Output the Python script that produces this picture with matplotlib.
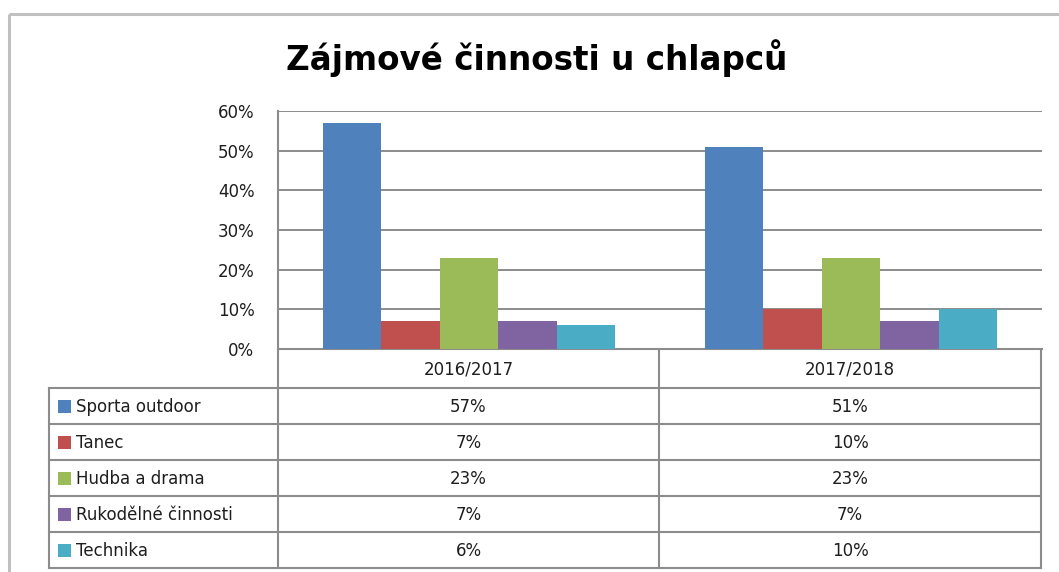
import matplotlib
matplotlib.use("Agg")
import matplotlib.pyplot as plt
import numpy as np

title = "Zájmové činnosti u chlapců"
categories = ["2016/2017", "2017/2018"]
series_names = ["Sporta outdoor", "Tanec", "Hudba a drama", "Rukodělné činnosti", "Technika"]
sporta = [57, 51]
tanec = [7, 10]
hudba = [23, 23]
rukodelne = [7, 7]
technika = [6, 10]
series_values = [sporta, tanec, hudba, rukodelne, technika]
colors = ["#4F81BD", "#C0504D", "#9BBB59", "#8064A2", "#4BACC6"]
yticks = [0, 10, 20, 30, 40, 50, 60]

W, H = 1059, 572
fig = plt.figure(figsize=(W / 100, H / 100), dpi=100)
fig.patch.set_facecolor("white")

FONT = ["DejaVu Sans"]
FS = 12
TXT = "#1e1e1e"
GRID = "#8c8c8c"

# plot area in pixels
L, R, T, B = 278, 1042, 111, 349
ax = fig.add_axes([L / W, 1 - B / H, (R - L) / W, (B - T) / H])
n = len(series_values)
group = 0.764
bw = group / n
x = np.arange(len(categories))
for i, (vals, c) in enumerate(zip(series_values, colors)):
    ax.bar(x + (i - (n - 1) / 2) * bw, vals, width=bw, color=c, zorder=3, linewidth=0)
ax.set_xlim(-0.5, len(categories) - 0.5)
ax.set_ylim(0, 60)
ax.set_yticks(yticks)
ax.set_yticklabels([f"{v}%" for v in yticks], fontfamily=FONT, fontsize=FS, color=TXT)
ax.set_xticks([])
ax.tick_params(axis="y", length=0, pad=17)
ax.grid(axis="y", color=GRID, linewidth=1.4, zorder=0)
for s in ["top", "right"]:
    ax.spines[s].set_visible(False)
for s in ["left", "bottom"]:
    ax.spines[s].set_color(GRID)
    ax.spines[s].set_linewidth(1.5)
ax.set_facecolor("white")

# overlay in pixel coordinates
ov = fig.add_axes([0, 0, 1, 1], zorder=-1)
ov.set_xlim(0, W)
ov.set_ylim(H, 0)
ov.axis("off")

# outer frame
ov.plot([9, W], [14, 14], color="#c0c0c0", lw=2.2, solid_capstyle="butt")
ov.plot([9, 9], [14, H], color="#c0c0c0", lw=2.2, solid_capstyle="butt")

fig.text(537 / W, 1 - 58 / H, title, ha="center", va="center",
         fontfamily=["DejaVu Sans"], fontweight="bold", fontsize=23.5, color="black")

# data table
tl, tc, tm, tr = 49, 278, 659, 1041
header_top, header_bot = 350, 388
row_h = (568 - 388) / len(series_names)
rows_y = [header_bot + k * row_h for k in range(len(series_names) + 1)]
lw_t = 1.5
ov2 = fig.add_axes([0, 0, 1, 1], zorder=5)
ov2.set_xlim(0, W)
ov2.set_ylim(H, 0)
ov2.axis("off")
ov2.plot([tm, tm], [header_top, rows_y[-1]], color=GRID, lw=lw_t)
ov2.plot([tr, tr], [header_top, rows_y[-1]], color=GRID, lw=lw_t)
ov2.plot([tc, tc], [header_top, rows_y[-1]], color=GRID, lw=lw_t)
ov2.plot([tl, tl], [rows_y[0], rows_y[-1]], color=GRID, lw=lw_t)
for yy in rows_y:
    ov2.plot([tl, tr], [yy, yy], color=GRID, lw=lw_t)
col_centers = [(tc + tm) / 2, (tm + tr) / 2]
for j, cat in enumerate(categories):
    ov2.text(col_centers[j], (header_top + header_bot) / 2 + 1, cat, ha="center", va="center",
             fontfamily=FONT, fontsize=FS, color=TXT)
for k, (name, vals, c) in enumerate(zip(series_names, series_values, colors)):
    yc = (rows_y[k] + rows_y[k + 1]) / 2
    ov2.add_patch(plt.Rectangle((58, yc - 6.5), 13, 13, color=c, lw=0))
    ov2.text(76, yc + 1, name, ha="left", va="center", fontfamily=FONT, fontsize=FS, color=TXT)
    for j in range(len(categories)):
        ov2.text(col_centers[j], yc + 1, f"{vals[j]}%", ha="center", va="center",
                 fontfamily=FONT, fontsize=FS, color=TXT)

fig.savefig("out.png", dpi=100, facecolor="white")
